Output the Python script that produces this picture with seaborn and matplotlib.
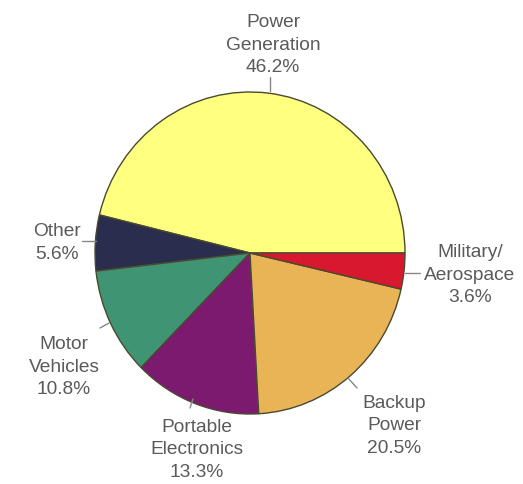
import matplotlib
matplotlib.use("Agg")
import matplotlib.pyplot as plt
import seaborn as sns

sns.set_theme(style="white")
plt.rcParams['font.family'] = ['Liberation Sans', 'DejaVu Sans']

categories = ["Power Generation", "Other", "Motor Vehicles", "Portable Electronics", "Backup Power", "Military/ Aerospace"]
values = [46.2, 5.6, 10.8, 13.3, 20.5, 3.6]
labels = ["Power\nGeneration\n46.2%", "Other\n5.6%", "Motor\nVehicles\n10.8%",
          "Portable\nElectronics\n13.3%", "Backup\nPower\n20.5%", "Military/\nAerospace\n3.6%"]
colors = ["#ffff80", "#2b2d4f", "#3f9473", "#7b1a6e", "#e8b456", "#d8182e"]

W, H = 523, 484
CX, CY, RX, RY = 250, 253, 155, 161

fig = plt.figure(figsize=(W / 100, H / 100), dpi=100)
ax = fig.add_axes([0, 0, 1, 1])

def px(x, y):
    return ((x - CX) / RX, (CY - y) / RY)

ax.pie(values, colors=colors, startangle=0, counterclock=True, radius=1.0,
       wedgeprops=dict(edgecolor="#4a4a30", linewidth=1.0))
ax.set_aspect("auto")
ax.set_xlim(-CX / RX, (W - CX) / RX)
ax.set_ylim(-(H - CY) / RY, CY / RY)
ax.axis("off")

txt = dict(fontsize=13.8, color="#5a5a5a", ha="center", va="center", linespacing=1.42)
label_pos = [(273, 45), (57, 243), (64, 367), (197, 450), (394, 426), (470, 275)]
for lab, (x, y) in zip(labels, label_pos):
    ax.text(*px(x, y), lab, **txt)

leaders = [((270, 77), (270, 91)), ((82, 241), (96, 241)), ((100, 328), (109, 323)),
           ((190, 408), (193, 399)), ((348, 378), (357, 388)), ((405, 273), (420, 273))]
for (a, b) in leaders:
    pa, pb = px(*a), px(*b)
    ax.plot([pa[0], pb[0]], [pa[1], pb[1]], color="#888888", lw=1.0)

fig.savefig("out.png", dpi=100, facecolor="white")
